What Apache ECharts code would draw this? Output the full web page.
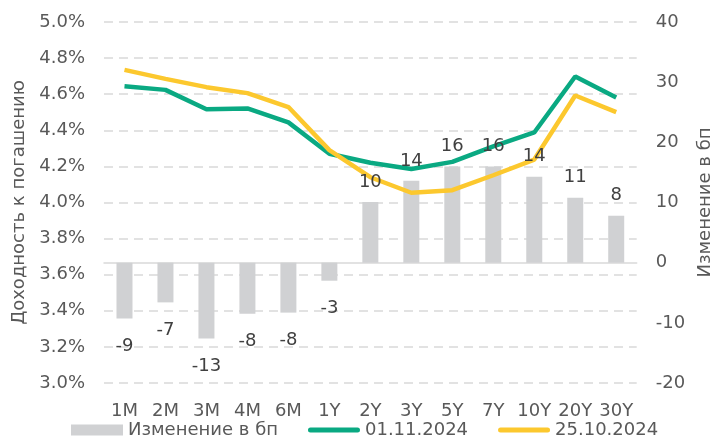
<!DOCTYPE html>
<html>
<head>
<meta charset="utf-8">
<script src="https://cdn.jsdelivr.net/npm/echarts@6/dist/echarts.min.js"></script>
<style>
  html, body { margin: 0; padding: 0; background: #fff; }
  #chart { width: 722px; height: 442px; }
</style>
</head>
<body>
<div id="chart"></div>
<script>
// сроки
var tenors = ['1M', '2M', '3M', '4M', '6M', '1Y', '2Y', '3Y', '5Y', '7Y', '10Y', '20Y', '30Y']
// изменение, б.п.
var changeBp = [-9.3, -6.6, -12.6, -8.5, -8.3, -3, 10.1, 13.6, 16, 16, 14.3, 10.8, 7.8]
// доходность, %
var yield0111 = [4.644, 4.624, 4.517, 4.521, 4.444, 4.27, 4.22, 4.186, 4.225, 4.311, 4.388, 4.698, 4.582]
var yield2510 = [4.735, 4.685, 4.639, 4.606, 4.529, 4.29, 4.14, 4.054, 4.068, 4.151, 4.238, 4.593, 4.501]

var textColor = '#595959'
var font = 'DejaVu Sans'
// иконка легенды для линий
var lineIcon = 'path://M2.5,0h47a2.5,2.5 0 0 1 0,5h-47a2.5,2.5 0 0 1 0,-5z'

var myChart = echarts.init(document.getElementById('chart'))

// подписи над/под столбцами
var labelData = changeBp.map(function (v) {
  return {
    value: v,
    label: v >= 0 ? { position: 'top', distance: 11 } : { position: 'bottom', distance: 19 }
  }
})

myChart.setOption({
  animation: false,
  textStyle: { fontFamily: font },
  grid: {
    left: 104,
    right: 78,
    top: 22,
    bottom: 59
  },
  legend: {
    left: 71,
    top: 421,
    padding: 0,
    itemWidth: 52,
    itemHeight: 11,
    itemGap: 30,
    symbolKeepAspect: true,
    textStyle: { color: textColor, fontSize: 18, fontFamily: font },
    data: [
      { name: 'Изменение в бп', icon: 'rect' },
      { name: '01.11.2024', icon: lineIcon },
      { name: '25.10.2024', icon: lineIcon }
    ]
  },
  xAxis: {
    type: 'category',
    data: tenors,
    axisLine: { lineStyle: { color: '#d9d9d9', width: 1.5 } },
    axisTick: { show: false },
    axisLabel: { color: textColor, fontSize: 18, interval: 0, margin: 19 }
  },
  yAxis: [
    {
      type: 'value',
      min: 3,
      max: 5,
      interval: 0.2,
      name: 'Доходность к погашению',
      nameLocation: 'middle',
      nameRotate: 90,
      nameGap: 76,
      nameTextStyle: { color: textColor, fontSize: 18 },
      axisLine: { show: false },
      axisTick: { show: false },
      axisLabel: {
        color: textColor,
        fontSize: 18,
        margin: 19,
        formatter: function (v) { return v.toFixed(1) + '%' }
      },
      splitLine: {
        lineStyle: { color: '#d9d9d9', type: [9, 6], width: 1.5 }
      }
    },
    {
      type: 'value',
      min: -20,
      max: 40,
      interval: 10,
      name: 'Изменение в бп',
      nameLocation: 'middle',
      nameRotate: 90,
      nameGap: 56,
      nameTextStyle: { color: textColor, fontSize: 18 },
      axisLine: { show: false },
      axisTick: { show: false },
      axisLabel: { color: textColor, fontSize: 18, margin: 19 },
      splitLine: { show: false }
    }
  ],
  series: [
    {
      name: 'Изменение в бп',
      type: 'bar',
      yAxisIndex: 1,
      data: changeBp,
      barWidth: 16,
      itemStyle: { color: '#d0d1d3' }
    },
    {
      name: '01.11.2024',
      type: 'line',
      yAxisIndex: 0,
      data: yield0111,
      symbol: 'none',
      lineStyle: { color: '#0aa982', width: 4.5 },
      itemStyle: { color: '#0aa982' }
    },
    {
      name: '25.10.2024',
      type: 'line',
      yAxisIndex: 0,
      data: yield2510,
      symbol: 'none',
      lineStyle: { color: '#fcc82e', width: 4.5 },
      itemStyle: { color: '#fcc82e' }
    },
    {
      // прозрачный дубль только для подписей поверх линий
      name: 'labels',
      type: 'bar',
      yAxisIndex: 1,
      data: labelData,
      barWidth: 16,
      barGap: '-100%',
      z: 5,
      silent: true,
      itemStyle: { color: 'rgba(0,0,0,0)' },
      label: {
        show: true,
        color: '#404040',
        fontSize: 18,
        formatter: function (p) { return Math.round(p.value) }
      }
    }
  ]
})
</script>
</body>
</html>
